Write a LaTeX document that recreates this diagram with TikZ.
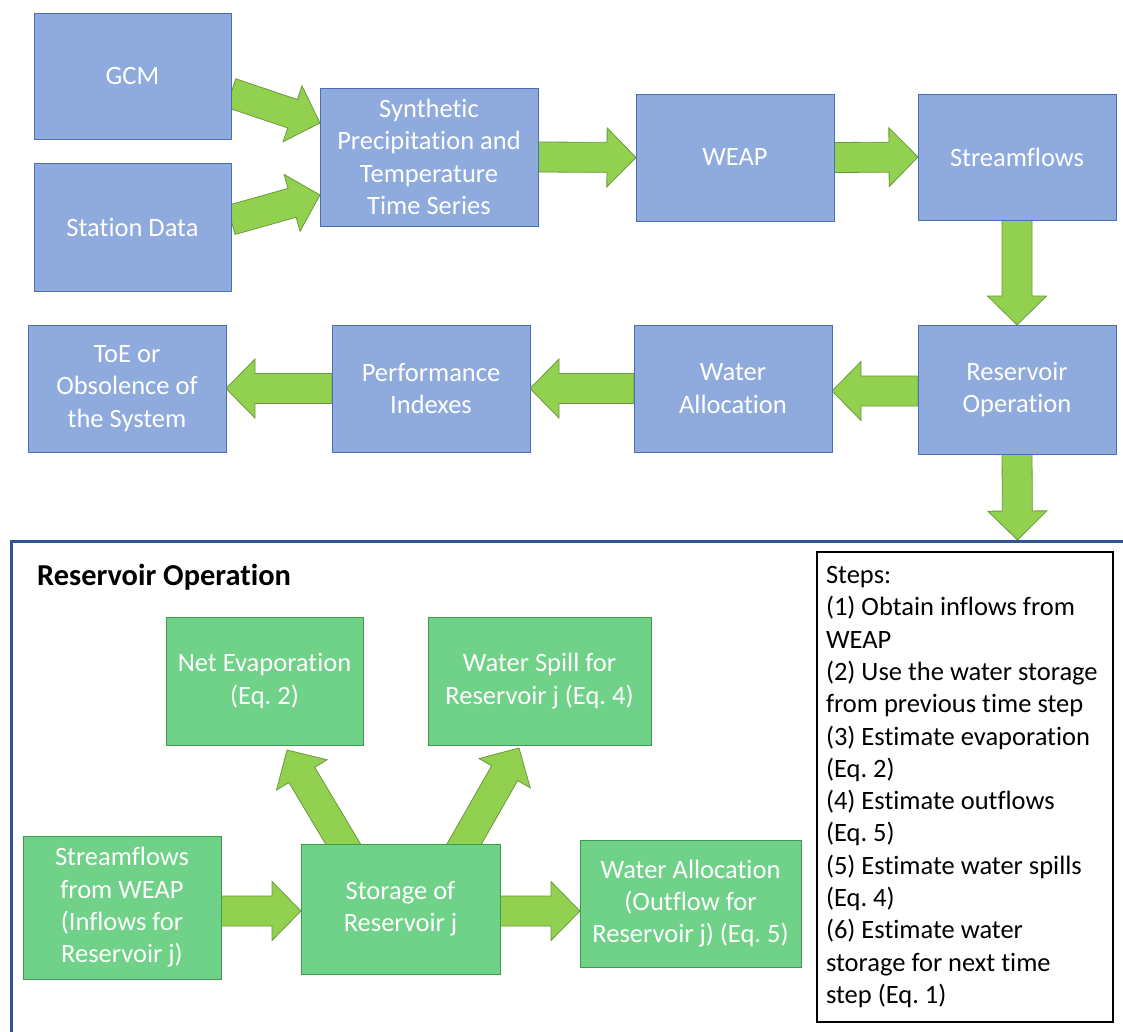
\documentclass[tikz,border=0pt]{standalone}
\usepackage{fontspec}
\setmainfont[Ligatures=NoCommon]{Carlito}
\frenchspacing
\usetikzlibrary{calc,backgrounds}
\definecolor{bluefill}{HTML}{8FAADC}
\definecolor{blueline}{HTML}{4A6FB5}
\definecolor{arrowfill}{HTML}{92D050}
\definecolor{arrowline}{HTML}{6A9A3C}
\definecolor{greenfill}{HTML}{70D188}
\definecolor{greenline}{HTML}{3E9A4C}
\definecolor{panelline}{HTML}{2F5597}
\tikzset{
  bbox/.style={draw=blueline, line width=0.9pt, fill=bluefill, text=white, align=center,
    inner sep=2pt, outer sep=0pt, font=\fontsize{26.5}{32.3}\selectfont},
  gbox/.style={draw=greenline, line width=0.9pt, fill=greenfill, text=white, align=center,
    inner sep=2pt, outer sep=0pt, font=\fontsize{26.5}{32.3}\selectfont},
  flow/.style={draw=arrowline, line width=0.8pt, fill=arrowfill, line join=miter},
}
\newcommand{\blockarrow}[2]{%
  \path (#1) coordinate (bas) (#2) coordinate (bae);
  \path ($(bae)!29pt!(bas)$) coordinate (bah);
  \draw[flow] ($(bas)!15pt!90:(bae)$) -- ($(bah)!15pt!-90:(bas)$) -- ($(bah)!29.5pt!-90:(bas)$)
    -- (bae) -- ($(bah)!29.5pt!90:(bas)$) -- ($(bah)!15pt!90:(bas)$) -- ($(bas)!15pt!-90:(bae)$) -- cycle;
}
\begin{document}
\begin{tikzpicture}[x=1pt,y=-1pt]
\useasboundingbox (0,0) rectangle (1123,1032);
% top row
\node[bbox, minimum width=197, minimum height=126] (gcm) at (132.5,76) {GCM};
\node[bbox, minimum width=197, minimum height=128] (sta) at (132.5,227) {Station Data};
\node[bbox, minimum width=218, minimum height=138] (syn) at (429,157) {Synthetic\\Precipitation and\\Temperature\\Time Series};
\node[bbox, minimum width=198, minimum height=127] (weap) at (735,157.5) {WEAP};
\node[bbox, minimum width=198, minimum height=126] (stream) at (1017,157) {Streamflows};
\node[bbox, minimum width=198, minimum height=129] (resop) at (1017,389.5) {Reservoir\\Operation};
\node[bbox, minimum width=198, minimum height=127] (walloc) at (733,388.5) {Water\\Allocation};
\node[bbox, minimum width=198, minimum height=127] (perf) at (431,388.5) {Performance\\Indexes};
\node[bbox, minimum width=198, minimum height=127] (toe) at (127,388.5) {ToE or\\Obsolence of\\the System};
% panel
\draw[panelline, line width=3pt] (11.5,1032) -- (11.5,541.5) -- (1123,541.5);
\coordinate (panel) at (1017.5,540);
\node[anchor=west, inner sep=0pt, font=\fontsize{30.4}{36}\selectfont\bfseries] (title) at (37,577) {Reservoir Operation};
% bottom boxes
\node[gbox, minimum width=197, minimum height=128] (evap) at (264.5,681) {Net Evaporation\\(Eq. 2)};
\node[gbox, minimum width=223, minimum height=128] (spill) at (539.5,681) {Water Spill for\\Reservoir j (Eq. 4)};
\node[gbox, minimum width=198, minimum height=143] (sfw) at (122,907.5) {Streamflows\\from WEAP\\(Inflows for\\Reservoir j)};
\node[gbox, minimum width=199, minimum height=130] (stor) at (400.5,909) {Storage of\\Reservoir j};
\node[gbox, minimum width=221, minimum height=127] (wa2) at (690.5,903.5) {Water Allocation\\(Outflow for\\Reservoir j) (Eq. 5)};
\node[draw=black, line width=1.2pt, fill=white, minimum width=296, minimum height=470, text width=278,
  align=flush left, inner xsep=9pt, inner ysep=0pt, font=\fontsize{26.5}{32.3}\selectfont] (steps) at (965,787) {Steps:\\(1) Obtain inflows from\\WEAP\\(2) Use the water storage\\from previous time step\\(3) Estimate evaporation\\(Eq. 2)\\(4) Estimate outflows\\(Eq. 5)\\(5) Estimate water spills\\(Eq. 4)\\(6) Estimate water\\storage for next time\\step (Eq. 1)};
% arrows
\begin{pgfonlayer}{background}
\blockarrow{$(gcm.east)+(0,17)$}{$(syn.west)+(0,-34)$}
\blockarrow{$(sta.east)+(0,-7)$}{$(syn.west)+(0,38)$}
\blockarrow{syn.east}{weap.west}
\blockarrow{weap.east}{stream.west}
\blockarrow{stream.south}{resop.north}
\blockarrow{$(resop.west)+(0,1.5)$}{$(walloc.east)+(0,2.5)$}
\blockarrow{walloc.west}{perf.east}
\blockarrow{perf.west}{toe.east}
\blockarrow{resop.south}{panel}
\blockarrow{$(sfw.east)+(0,3.5)$}{$(stor.west)+(0,2)$}
\blockarrow{$(stor.east)+(0,2)$}{$(wa2.west)+(0,7.5)$}
\blockarrow{$(stor.north)+(-51.5,10)$}{$(evap.south)+(22.5,5)$}
\blockarrow{$(stor.north)+(58,10)$}{$(spill.south)+(-20.5,3)$}
\end{pgfonlayer}
\end{tikzpicture}
\end{document}
